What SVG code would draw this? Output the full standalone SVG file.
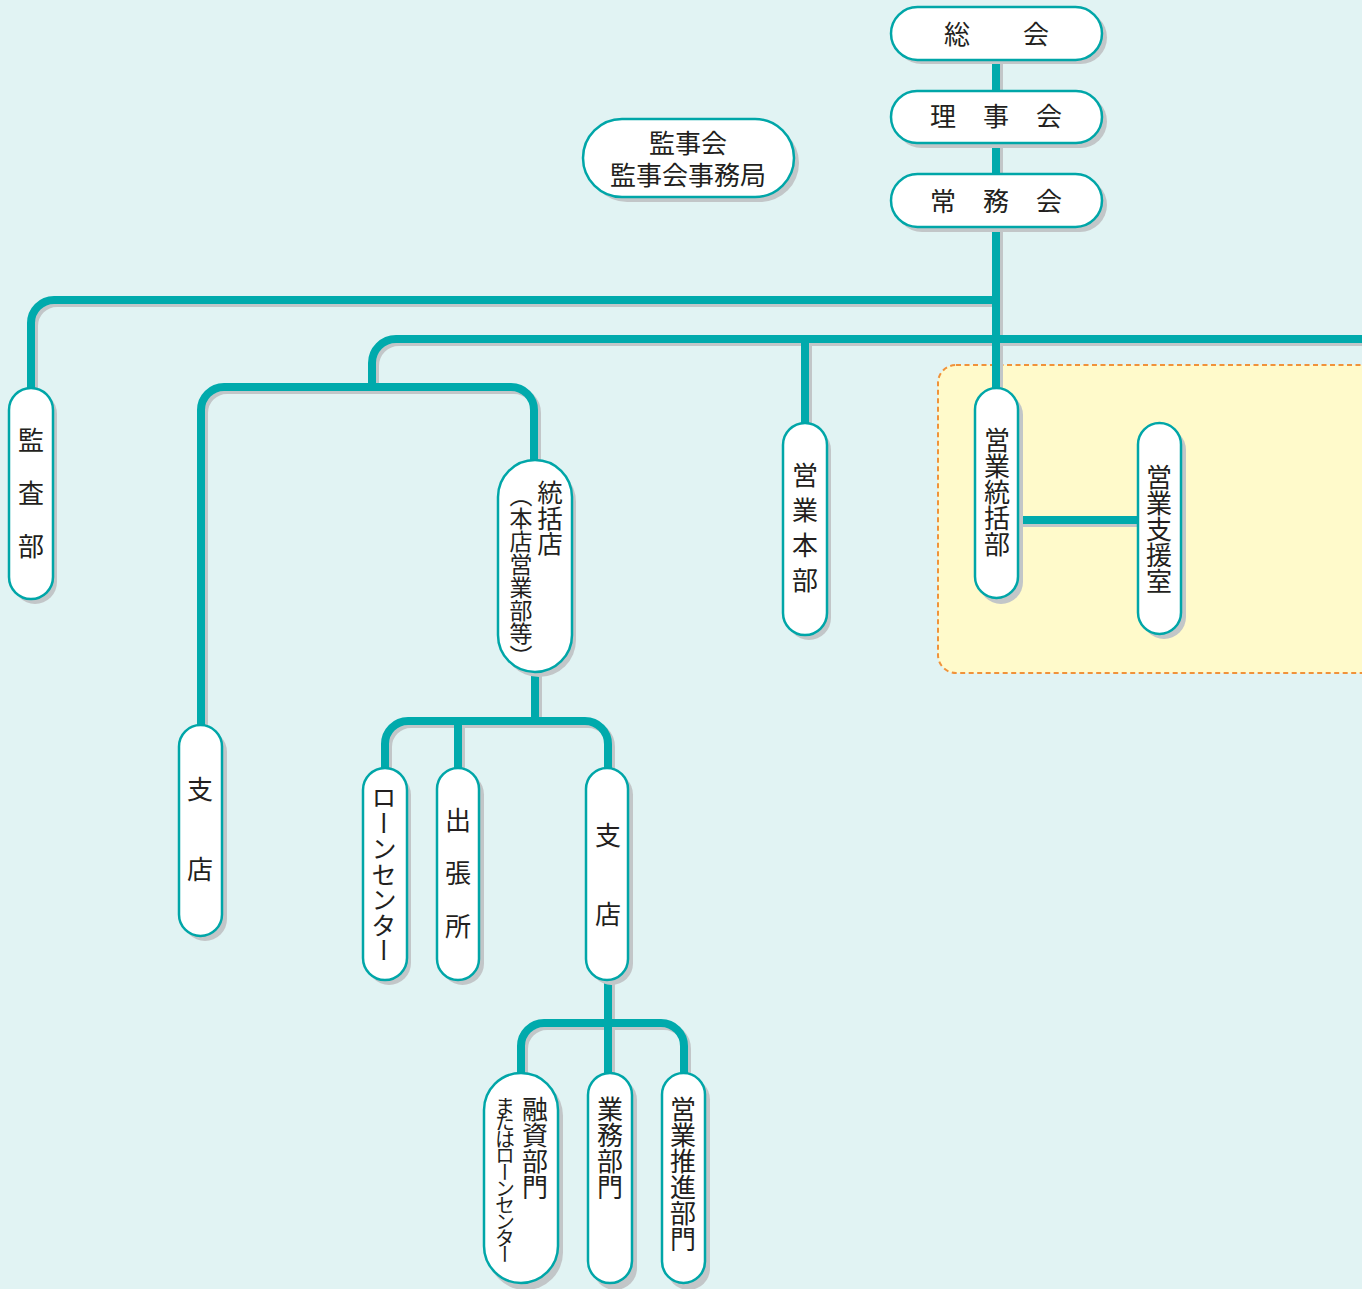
<svg xmlns="http://www.w3.org/2000/svg" width="1362" height="1289" viewBox="0 0 1362 1289">
<style>
.bg{fill:#E1F3F3}
.area{fill:#FFFACB;stroke:#F0923A;stroke-width:2;stroke-dasharray:5 3.5}
.ln{fill:none;stroke:#00AAAC;stroke-width:8}
.lns{fill:none;stroke:#C2C6C8;stroke-width:8}
.nd{fill:#FFFFFF;stroke:#00A6A8;stroke-width:2.5}
.sh{fill:#C2C6C8}
text{font-family:"Noto Sans CJK JP","Noto Sans",sans-serif;fill:#231F20;font-size:26px}
.h{text-anchor:middle;dominant-baseline:central}
.v{writing-mode:vertical-rl;text-anchor:start}
</style>
<rect class="bg" x="0" y="0" width="1362" height="1289"/>
<rect class="area" x="938" y="365" width="480" height="308" rx="18"/>

<g id="connectors">
  <g transform="translate(3,3)">
    <path class="lns" d="M996 60 V389"/>
    <path class="lns" d="M996 300 H54 A23 23 0 0 0 31 323 V388"/>
    <path class="lns" d="M1370 339 H396 A24 24 0 0 0 372 363 V387"/>
    <path class="lns" d="M805 339 V424"/>
    <path class="lns" d="M201 725 V410 A23 23 0 0 1 224 387 H511 A23 23 0 0 1 534 410 V460"/>
    <path class="lns" d="M535 672 V721"/>
    <path class="lns" d="M385 769 V744 A23 23 0 0 1 408 721 H585 A23 23 0 0 1 608 744 V769"/>
    <path class="lns" d="M458 721 V769"/>
    <path class="lns" d="M608 980 V1073"/>
    <path class="lns" d="M521 1073 V1046 A23 23 0 0 1 544 1023 H661 A23 23 0 0 1 684 1046 V1073"/>
    <path class="lns" d="M1018 520 H1138"/>
  </g>
  <path class="ln" d="M996 60 V389"/>
  <path class="ln" d="M996 300 H54 A23 23 0 0 0 31 323 V388"/>
  <path class="ln" d="M1370 339 H396 A24 24 0 0 0 372 363 V387"/>
  <path class="ln" d="M805 339 V424"/>
  <path class="ln" d="M201 725 V410 A23 23 0 0 1 224 387 H511 A23 23 0 0 1 534 410 V460"/>
  <path class="ln" d="M535 672 V721"/>
  <path class="ln" d="M385 769 V744 A23 23 0 0 1 408 721 H585 A23 23 0 0 1 608 744 V769"/>
  <path class="ln" d="M458 721 V769"/>
  <path class="ln" d="M608 980 V1073"/>
  <path class="ln" d="M521 1073 V1046 A23 23 0 0 1 544 1023 H661 A23 23 0 0 1 684 1046 V1073"/>
  <path class="ln" d="M1018 520 H1138"/>
</g>

<g id="soukai">
  <rect class="sh" x="895" y="11" width="212" height="53" rx="26.5"/>
  <rect class="nd" x="891" y="7" width="211" height="53" rx="26.5"/>
  <text class="h" y="32"><tspan x="957">総</tspan><tspan x="1036">会</tspan></text>
</g>
<g id="rijikai">
  <rect class="sh" x="895" y="95" width="212" height="53" rx="26.5"/>
  <rect class="nd" x="891" y="91" width="211" height="52" rx="26"/>
  <text class="h" y="114"><tspan x="943">理</tspan><tspan x="996">事</tspan><tspan x="1049">会</tspan></text>
</g>
<g id="joumukai">
  <rect class="sh" x="895" y="178" width="212" height="54" rx="27"/>
  <rect class="nd" x="891" y="174" width="211" height="53" rx="26.5"/>
  <text class="h" y="199"><tspan x="943">常</tspan><tspan x="996">務</tspan><tspan x="1049">会</tspan></text>
</g>
<g id="kanjikai">
  <rect class="sh" x="588" y="124" width="211" height="78" rx="39"/>
  <rect class="nd" x="583" y="119" width="211" height="78" rx="39"/>
  <text class="h" x="688" y="141">監事会</text>
  <text class="h" x="688" y="173">監事会事務局</text>
</g>

<g id="kansabu">
  <rect class="sh" x="13" y="392" width="44" height="212" rx="22"/>
  <rect class="nd" x="9" y="388" width="44" height="211" rx="22"/>
  <text class="v" x="31" y="427" style="letter-spacing:27px">監査部</text>
</g>
<g id="shiten1">
  <rect class="sh" x="183" y="730" width="44" height="211" rx="22"/>
  <rect class="nd" x="179" y="725" width="43" height="211" rx="21.5"/>
  <text class="v" x="200" y="776" style="letter-spacing:54px">支店</text>
</g>
<g id="toukatsuten">
  <rect class="sh" x="502" y="465" width="74" height="212" rx="37"/>
  <rect class="nd" x="498" y="460" width="74" height="212" rx="37"/>
  <text class="v" x="550" y="480" style="font-size:25.5px">統括店</text>
  <text class="v" x="521" y="484" style="font-size:23px">（本店営業部等）</text>
</g>
<g id="eigyohonbu">
  <rect class="sh" x="787" y="428" width="44" height="212" rx="22"/>
  <rect class="nd" x="783" y="423" width="44" height="212" rx="22"/>
  <text class="v" x="805" y="462" style="letter-spacing:9px">営業本部</text>
</g>
<g id="eigyotoukatsubu">
  <rect class="sh" x="979" y="393" width="44" height="211" rx="22"/>
  <rect class="nd" x="975" y="388" width="43" height="210" rx="21.5"/>
  <text class="v" x="997" y="427">営業統括部</text>
</g>
<g id="eigyoshienshitsu">
  <rect class="sh" x="1142" y="428" width="44" height="211" rx="22"/>
  <rect class="nd" x="1138" y="423" width="43" height="211" rx="21.5"/>
  <text class="v" x="1159" y="464">営業支援室</text>
</g>
<g id="loancenter">
  <rect class="sh" x="367" y="773" width="44" height="212" rx="22"/>
  <rect class="nd" x="363" y="768" width="44" height="212" rx="22"/>
  <text class="v" x="384" y="785" style="font-size:25.5px">ローンセンター</text>
</g>
<g id="shutchousho">
  <rect class="sh" x="441" y="773" width="43" height="212" rx="21.5"/>
  <rect class="nd" x="437" y="768" width="42" height="212" rx="21"/>
  <text class="v" x="458" y="807" style="letter-spacing:27px">出張所</text>
</g>
<g id="shiten2">
  <rect class="sh" x="590" y="773" width="43" height="212" rx="21.5"/>
  <rect class="nd" x="586" y="768" width="42" height="212" rx="21"/>
  <text class="v" x="608" y="822" style="letter-spacing:53px">支店</text>
</g>
<g id="yushibumon">
  <rect class="sh" x="488" y="1078" width="75" height="212" rx="37.5"/>
  <rect class="nd" x="484" y="1073" width="74" height="210" rx="37"/>
  <text class="v" x="535" y="1096">融資部門</text>
  <text class="v" x="505" y="1096" style="font-size:20px;letter-spacing:-3.5px">またはローンセンター</text>
</g>
<g id="gyoumubumon">
  <rect class="sh" x="593" y="1078" width="44" height="212" rx="22"/>
  <rect class="nd" x="588" y="1073" width="44" height="210" rx="22"/>
  <text class="v" x="610" y="1096">業務部門</text>
</g>
<g id="eigyosuishinbumon">
  <rect class="sh" x="667" y="1078" width="43" height="212" rx="21.5"/>
  <rect class="nd" x="662" y="1073" width="43" height="210" rx="21.5"/>
  <text class="v" x="683" y="1096">営業推進部門</text>
</g>
</svg>
